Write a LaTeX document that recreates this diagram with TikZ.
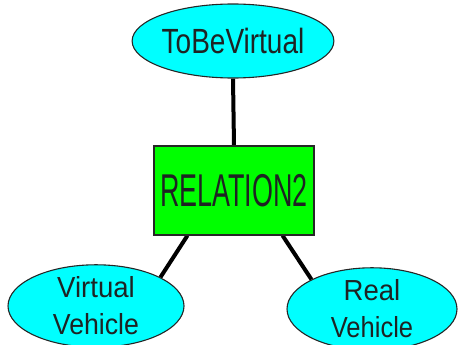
\documentclass[tikz,border=0pt]{standalone}
\usepackage{fontspec}
\usepackage{graphicx}
\setmainfont{Liberation Sans}
\usetikzlibrary{shapes.geometric,backgrounds,calc}
\definecolor{ellfill}{RGB}{0,255,255}
\definecolor{boxfill}{RGB}{0,255,0}
\definecolor{txt}{RGB}{30,35,35}
\newcommand\narrow[2]{\scalebox{#1}[1]{#2}}
\begin{document}
\begin{tikzpicture}[x=1pt,y=-1pt,
  ell/.style={ellipse, draw=black!85, line width=1.1pt, fill=ellfill, inner sep=0pt, text=txt, align=center},
  relbox/.style={rectangle, draw=black!85, line width=1.1pt, fill=boxfill, inner sep=0pt, text=txt},
  link/.style={line width=4pt, black}]
\useasboundingbox (0,0) rectangle (458,345);
\node[ell, minimum width=176pt, minimum height=74pt, font=\fontsize{35}{40}\selectfont] (tbv) at (233,41)
  {\narrow{0.80}{ToBeVirtual}};
\node[relbox, minimum width=160pt, minimum height=89pt, font=\fontsize{46}{50}\selectfont] (rel) at (234,190.5)
  {\narrow{0.585}{RELATION2}};
\node[ell, minimum width=176pt, minimum height=76pt, font=\fontsize{29}{37}\selectfont] (vv) at (96,306)
  {\narrow{0.95}{Virtual}\\\narrow{0.92}{Vehicle}};
\node[ell, minimum width=170pt, minimum height=74pt, font=\fontsize{29}{37}\selectfont] (rv) at (372,309)
  {\narrow{0.95}{Real}\\\narrow{0.88}{Vehicle}};
\coordinate (rl) at ($(rel.south west)+(34,0)$);
\coordinate (rr) at ($(rel.south east)+(-32,0)$);
\begin{scope}[on background layer]
\draw[link] (tbv.south) -- (rel.north);
\draw[link] (rl) -- (vv.24);
\draw[link] (rr) -- (rv.154);
\end{scope}
\end{tikzpicture}
\end{document}
